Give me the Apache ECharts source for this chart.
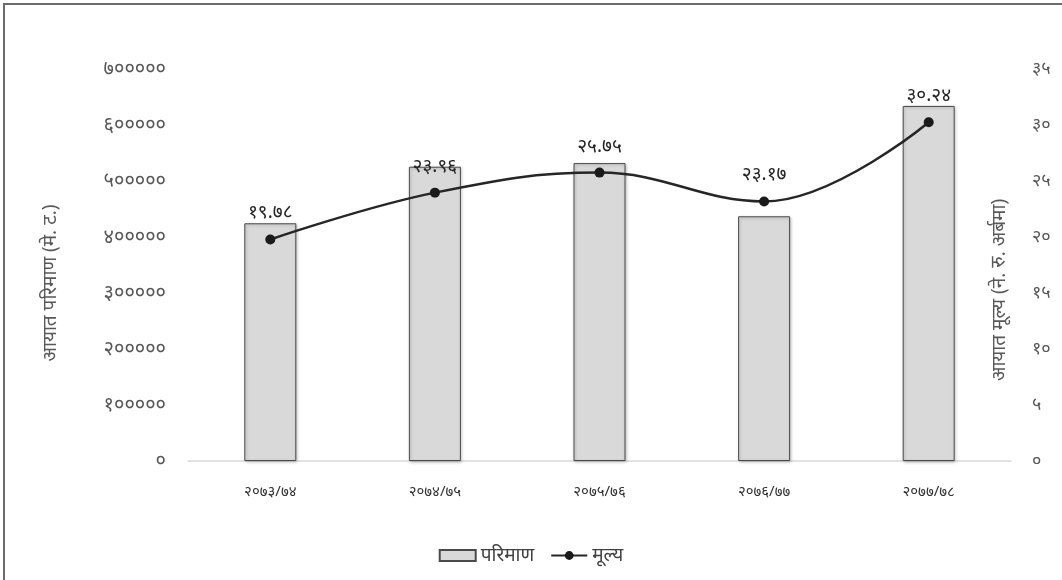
<!DOCTYPE html>
<html>
<head>
<meta charset="utf-8">
<script src="https://cdn.jsdelivr.net/npm/echarts@6/dist/echarts.min.js"></script>
<style>
  html, body { margin: 0; padding: 0; background: #fff; }
  #chart { width: 1062px; height: 580px; }
</style>
</head>
<body>
<div id="chart"></div>
<script>
// Fiscal years (Bikram Sambat)
const categories = ['२०७३/७४', '२०७४/७५', '२०७५/७६', '२०७६/७७', '२०७७/७८'];
// Import quantity (metric tonnes)
const quantity = [424500, 525500, 532000, 437000, 634000];
// Import value (NPR, billion)
const value = [19.78, 23.96, 25.75, 23.17, 30.24];
// Axis ranges
const leftMax = 700000, leftStep = 100000;
const rightMax = 35, rightStep = 5;

const seriesNames = ['परिमाण', 'मूल्य'];
const leftAxisName = 'आयात परिमाण (मे. ट.)';
const rightAxisName = 'आयात मूल्य (ने. रु. अर्बमा)';

const devDigits = '०१२३४५६७८९';
function toDev(v) {
  return String(v).replace(/[0-9]/g, d => devDigits[+d]);
}

const FONT = '"Noto Sans", "Noto Sans Devanagari", sans-serif';

const chart = echarts.init(document.getElementById('chart'), null, { renderer: 'canvas' });
chart.setOption({
  animation: false,
  backgroundColor: '#ffffff',
  textStyle: { fontFamily: FONT },
  graphic: [{
    type: 'rect',
    shape: { x: 4, y: 4, width: 1200, height: 700 },
    style: { fill: 'none', stroke: '#6b6b6b', lineWidth: 2 },
    silent: true, z: 100
  }],
  grid: { left: 188, right: 51, top: 69, bottom: 119, outerBoundsMode: 'none' },
  legend: {
    bottom: 10,
    left: 'center',
    itemGap: 16,
    itemWidth: 36,
    itemHeight: 11,
    textStyle: { fontFamily: FONT, fontSize: 19, color: '#404040', padding: [0, 0, 0, 0] },
    data: [
      { name: seriesNames[0], icon: 'rect' },
      { name: seriesNames[1] }
    ]
  },
  xAxis: {
    type: 'category',
    data: categories,
    axisLine: { lineStyle: { color: '#d9d9d9', width: 1.5 } },
    axisTick: { show: false },
    axisLabel: { margin: 23, fontSize: 15, color: '#333333', fontFamily: FONT }
  },
  yAxis: [{
    type: 'value',
    min: 0, max: leftMax, interval: leftStep,
    name: leftAxisName,
    nameLocation: 'middle',
    nameGap: 137,
    nameRotate: 90,
    nameMoveOverlap: false,
    nameTextStyle: {
      fontSize: 19, color: '#595959', fontFamily: FONT,
      align: 'center', verticalAlign: 'middle', padding: [0, 36, 0, 0]
    },
    splitLine: { show: false },
    axisLine: { show: false },
    axisTick: { show: false },
    axisLabel: { margin: 22, fontSize: 20, color: '#595959', fontFamily: FONT, formatter: v => toDev(v) }
  }, {
    type: 'value',
    min: 0, max: rightMax, interval: rightStep,
    name: rightAxisName,
    nameLocation: 'middle',
    nameGap: -11,
    nameRotate: 90,
    nameMoveOverlap: false,
    nameTextStyle: {
      fontSize: 19, color: '#595959', fontFamily: FONT,
      align: 'center', verticalAlign: 'middle', padding: [0, 50, 0, 0]
    },
    splitLine: { show: false },
    axisLine: { show: false },
    axisTick: { show: false },
    axisLabel: { margin: 21, fontSize: 18, color: '#595959', fontFamily: FONT, formatter: v => toDev(v) }
  }],
  series: [{
    name: seriesNames[0],
    type: 'bar',
    yAxisIndex: 0,
    data: quantity,
    barWidth: 52,
    itemStyle: {
      color: '#d9d9d9',
      borderColor: '#4a4a4a',
      borderWidth: 1,
      shadowColor: 'rgba(0,0,0,0.25)',
      shadowBlur: 3,
      shadowOffsetX: 1,
      shadowOffsetY: 1
    }
  }, {
    name: seriesNames[1],
    type: 'line',
    yAxisIndex: 1,
    data: value,
    smooth: 0.4,
    symbol: 'circle',
    symbolSize: 10,
    lineStyle: { color: '#262626', width: 2.5 },
    itemStyle: { color: '#1a1a1a' },
    label: {
      show: true,
      position: 'top',
      distance: 12,
      fontSize: 19,
      color: '#262626',
      fontFamily: FONT,
      formatter: p => toDev(p.value.toFixed(2))
    }
  }]
});
</script>
</body>
</html>
